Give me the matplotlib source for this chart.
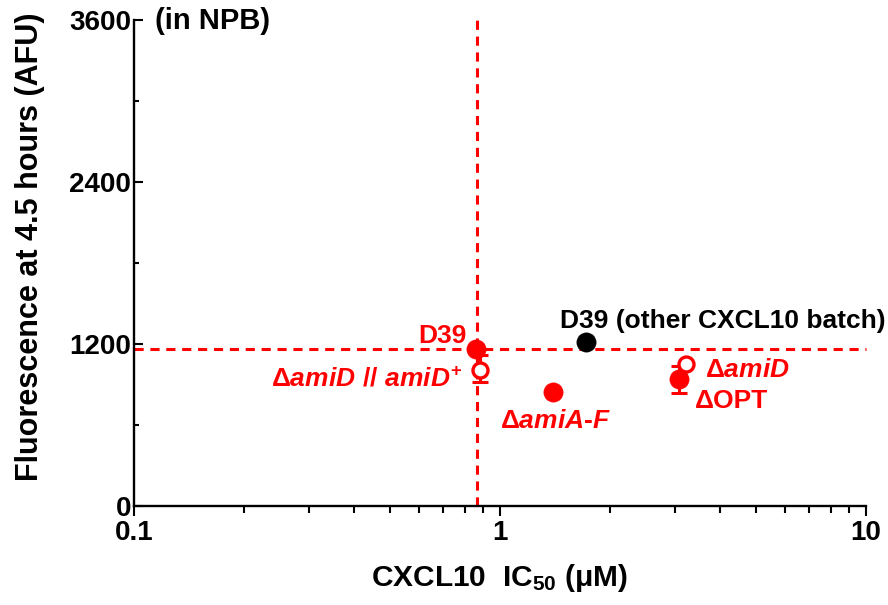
import matplotlib
matplotlib.use("Agg")
import matplotlib.pyplot as plt
from matplotlib.ticker import FixedLocator, LogLocator, NullFormatter, FixedFormatter

# ---- data ----
strains = ["D39", "D39 (other CXCL10 batch)", "ΔamiD // amiD+", "ΔamiA-F", "ΔamiD", "ΔOPT"]
ic50 = [0.86, 1.72, 0.88, 1.40, 3.22, 3.08]
fluor = [1163, 1215, 1007, 844, 1052, 941]
err_lo = [0, 0, 88, 0, 0, 104]
err_hi = [0, 0, 112, 0, 0, 96]
filled = [True, True, False, True, False, True]
colors = ["#ff0000", "#000000", "#ff0000", "#ff0000", "#ff0000", "#ff0000"]
ref_ic50 = 0.865
ref_fluor = 1163
yticks = [0, 1200, 2400, 3600]
yminor = [600, 1800, 3000]
xticks = [0.1, 1, 10]
xticklabels = ["0.1", "1", "10"]

plt.rcParams['font.family'] = ['Liberation Sans', 'DejaVu Sans']
plt.rcParams['font.weight'] = 'bold'
plt.rcParams['mathtext.fontset'] = 'custom'
plt.rcParams['mathtext.rm'] = 'Liberation Sans:bold'
plt.rcParams['mathtext.it'] = 'Liberation Sans:bold:italic'
plt.rcParams['mathtext.bf'] = 'Liberation Sans:bold'
plt.rcParams['mathtext.default'] = 'regular'

fig = plt.figure(figsize=(8.88, 6.05), dpi=100)
ax = fig.add_axes([134/888, 1-506/605, 732/888, 486/605])
ax.set_xscale('log')
ax.set_xlim(0.1, 10)
ax.set_ylim(0, 3600)

red = "#ff0000"
ax.axhline(ref_fluor, color=red, lw=2.2, ls=(0, (3.0, 2.2)), zorder=1, clip_on=False)
ax.axvline(ref_ic50, color=red, lw=2.2, ls=(0, (3.0, 2.2)), zorder=1, clip_on=False)

for x, y, lo, hi, f, c in zip(ic50, fluor, err_lo, err_hi, filled, colors):
    if lo or hi:
        ax.errorbar([x], [y], yerr=[[lo], [hi]], fmt='none', ecolor=c,
                    elinewidth=2.2, capsize=6.0, capthick=2.2, zorder=3)
    if f:
        ax.plot([x], [y], 'o', ms=13.8, mfc=c, mec=c, mew=0.5, zorder=4)
    else:
        ax.plot([x], [y], 'o', ms=10.8, mfc='white', mec=c, mew=2.4, zorder=5)

fs = 19
px = 0.72
def lab(i, text, dx, dy, ha, color):
    ax.annotate(text, xy=(ic50[i], fluor[i]), xytext=(dx*px, dy*px),
                textcoords='offset points', ha=ha, va='baseline',
                fontsize=fs, fontweight='bold', color=color)

lab(0, "D39", -9, 6, 'right', red)
lab(1, "D39 (other CXCL10 batch)", -26, 14, 'left', 'black')
lab(2, r"Δ$\mathit{amiD\ //\ amiD}^{+}$", -17, -16, 'right', red)
lab(3, r"Δ$\mathit{amiA}$-$\mathit{F}$", -53, -36, 'left', red)
lab(4, r"Δ$\mathit{amiD}$", 19, -13, 'left', red)
lab(5, "ΔOPT", 16, -29, 'left', red)

ax.text(0.029, 0.998, "(in NPB)", transform=ax.transAxes, ha='left', va='center',
        fontsize=21, fontweight='bold')

for s in ['top', 'right']:
    ax.spines[s].set_visible(False)
for s in ['left', 'bottom']:
    ax.spines[s].set_linewidth(1.7)

ax.yaxis.set_major_locator(FixedLocator(yticks))
ax.yaxis.set_minor_locator(FixedLocator(yminor))
ax.xaxis.set_major_locator(FixedLocator(xticks))
ax.xaxis.set_major_formatter(FixedFormatter(xticklabels))
ax.xaxis.set_minor_locator(LogLocator(base=10, subs=range(2, 10)))
ax.xaxis.set_minor_formatter(NullFormatter())

ax.tick_params(axis='y', which='major', direction='in', length=6.5, width=1.5,
               labelsize=20, pad=2)
ax.tick_params(axis='y', which='minor', direction='in', length=3.8, width=1.5)
ax.tick_params(axis='x', which='major', direction='out', length=7.2, width=1.5,
               labelsize=20, pad=3)
ax.tick_params(axis='x', which='minor', direction='out', length=5, width=1.5)
for t in ax.get_xticklabels() + ax.get_yticklabels():
    t.set_fontweight('bold')

ax.set_xlabel("CXCL10  IC$_{50}$ (μM)", fontsize=21.5, fontweight='bold')
ax.xaxis.set_label_coords(0.5, -0.148)
ax.set_ylabel("Fluorescence at 4.5 hours (AFU)", fontsize=22, fontweight='bold')
ax.yaxis.set_label_coords(-0.142, 0.533)
ax.yaxis.label.set_va('center')
ax.xaxis.label.set_va('center')

fig.savefig("out.png", dpi=100)
